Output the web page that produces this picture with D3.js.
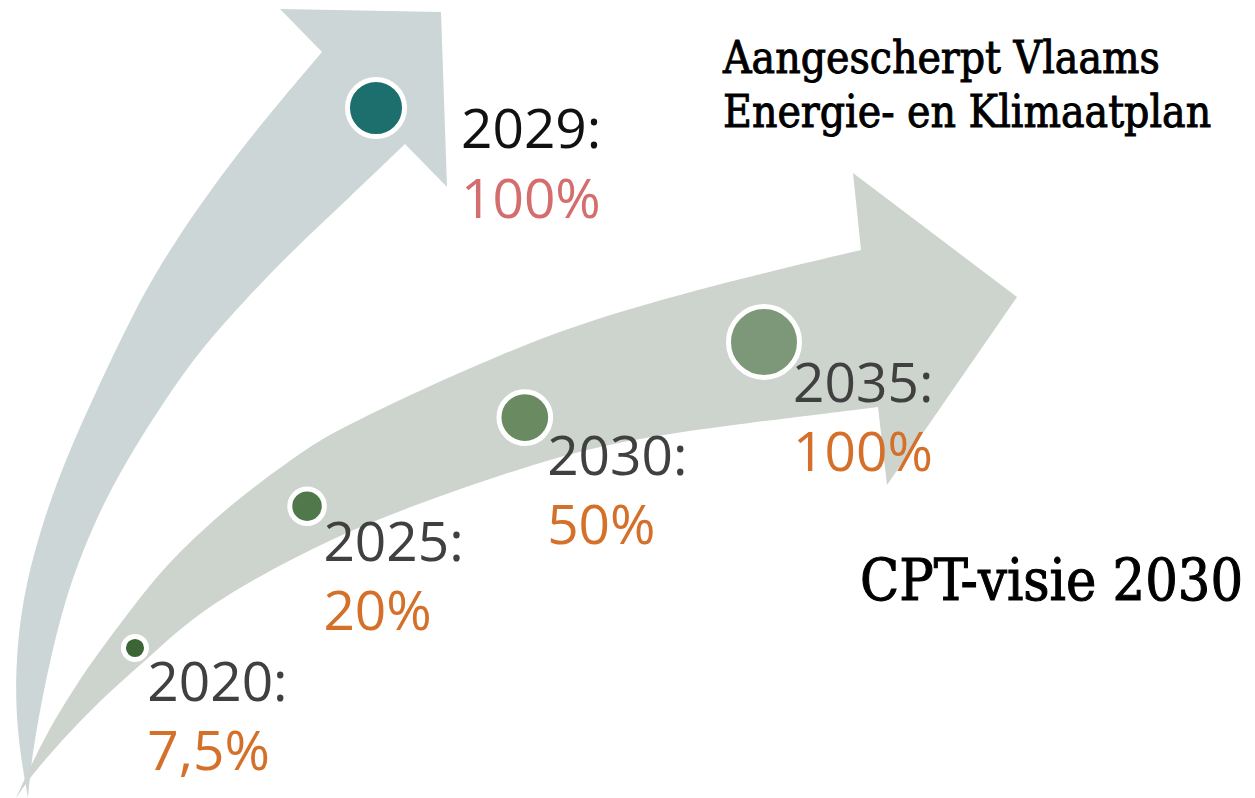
<!DOCTYPE html>
<html>
<head>
<meta charset="utf-8">
<script src="https://cdn.jsdelivr.net/npm/d3@7/dist/d3.min.js"></script>
<style>
  body { margin: 0; background: #fff; }
  svg { display: block; }
</style>
</head>
<body>
<div id="chart"></div>
<script>
// data
var years = [2020, 2025, 2030, 2035];
var shares = [7.5, 20, 50, 100];
var shareLabels = ["7,5%", "20%", "50%", "100%"];

var vekpYears = [2029];
var vekpShares = [100];
var vekpLabels = ["100%"];

var titleLines = ["Aangescherpt Vlaams", "Energie- en Klimaatplan"];
var cptTitle = "CPT-visie 2030";

var width = 1255;
var height = 798;

var svg = d3.select('#chart')
  .append('svg')
  .attr('width', width)
  .attr('height', height);

// arrow outlines (decoration only)
var smooth = d3.line().curve(d3.curveBasis);
var straight = d3.line();

function arrowPath(leftEdge, head, rightEdge) {
  return smooth(leftEdge) +
    straight(head).replace(/^M/, 'L') +
    smooth(rightEdge).replace(/^M/, 'L') + 'Z';
}

var upperArrow = arrowPath(
  [[28,798],[17,735],[15,670],[22,600],[40,530],[65,460],[100,383],[130,320],[165,255],[237,152],[322,52]],
  [[322,52],[280,9],[441,12],[447,187],[405,144]],
  [[405,144],[350,197],[293,250],[245,300],[200,350],[165,400],[133,450],[105,500],[83,550],[65,600],[50,660],[38,720],[31,765],[28,798]]
);

var lowerArrow = arrowPath(
  [[16,798],[45,735],[78,682],[102,648],[135,604],[170,560],[233,502],[300,453],[333,432],[420,390],[500,355],[580,323],[713,285],[861,250]],
  [[861,250],[853,173],[1017,297],[887,485],[878,407]],
  [[878,407],[747,423],[620,440],[520,468],[420,503],[333,537],[233,590],[180,628],[143,663],[100,700],[55,748],[32,775],[16,798]]
);

svg.append('path')
  .attr('d', upperArrow)
  .attr('fill', '#ccd6d6');

svg.append('path')
  .attr('d', lowerArrow)
  .attr('fill', '#cdd3cd');

// scales (years since 2020)
var x = d3.scalePow().exponent(1.18)
  .domain([0, 15])
  .range([135, 764]);

var y = d3.scalePow().exponent(0.7)
  .domain([0, 15])
  .range([648, 342]);

var r = d3.scaleSqrt()
  .domain([0, 100])
  .range([0, 33]);

var color = d3.scaleOrdinal()
  .domain(years)
  .range(['#3b6534', '#50784b', '#6a8a62', '#7d9779']);

// along the upper arrow
var xUp = d3.scaleLinear().domain([2020, 2029]).range([28, 376]);
var yUp = d3.scaleLinear().domain([2020, 2029]).range([798, 108]);
var rUp = d3.scaleSqrt().domain([0, 100]).range([0, 26]);

var numFont = "'Open Sans', 'Noto Sans', sans-serif";
var slabFont = "'DejaVu Serif Condensed', 'DejaVu Serif', serif";

// lower arrow milestones
var points = years.map(function(d, i) {
  return { year: d, t: d - years[0], share: shares[i], label: shareLabels[i] };
});

var ms = svg.selectAll('.milestone')
  .data(points)
  .enter()
  .append('g')
  .attr('class', 'milestone');

ms.append('circle')
  .attr('cx', function(d) { return x(d.t); })
  .attr('cy', function(d) { return y(d.t); })
  .attr('r', function(d) { return r(d.share) + 2.5; })
  .attr('fill', function(d) { return color(d.year); })
  .attr('stroke', '#fff')
  .attr('stroke-width', 5);

ms.append('text')
  .attr('x', function(d) { return x(d.t) + 6 + r(d.share) * 0.7; })
  .attr('y', function(d) { return y(d.t) + 50 + r(d.share) * 0.3; })
  .attr('font-family', numFont)
  .attr('font-size', 55)
  .attr('fill', '#404040')
  .text(function(d) { return d.year + ':'; });

ms.append('text')
  .attr('x', function(d) { return x(d.t) + 6 + r(d.share) * 0.7; })
  .attr('y', function(d) { return y(d.t) + 119 + r(d.share) * 0.3; })
  .attr('font-family', numFont)
  .attr('font-size', 55)
  .attr('fill', '#d4702a')
  .text(function(d) { return d.label; });

// upper arrow milestone
var up = svg.selectAll('.vekp')
  .data(vekpYears.map(function(d, i) {
    return { year: d, share: vekpShares[i], label: vekpLabels[i] };
  }))
  .enter()
  .append('g')
  .attr('class', 'vekp');

up.append('circle')
  .attr('cx', function(d) { return xUp(d.year); })
  .attr('cy', function(d) { return yUp(d.year); })
  .attr('r', function(d) { return rUp(d.share) + 2.5; })
  .attr('fill', '#1d6f6e')
  .attr('stroke', '#fff')
  .attr('stroke-width', 5);

up.append('text')
  .attr('x', function(d) { return xUp(d.year) + 85; })
  .attr('y', function(d) { return yUp(d.year) + 40; })
  .attr('font-family', numFont)
  .attr('font-size', 55)
  .attr('fill', '#111')
  .text(function(d) { return d.year + ':'; });

up.append('text')
  .attr('x', function(d) { return xUp(d.year) + 85; })
  .attr('y', function(d) { return yUp(d.year) + 110; })
  .attr('font-family', numFont)
  .attr('font-size', 55)
  .attr('fill', '#d46e6e')
  .text(function(d) { return d.label; });

// titles
svg.selectAll('.title')
  .data(titleLines)
  .enter()
  .append('text')
  .attr('class', 'title')
  .attr('x', 723)
  .attr('y', function(d, i) { return 73 + i * 54; })
  .attr('font-family', slabFont)
  .attr('font-size', 44)
  .attr('fill', '#000')
  .attr('stroke', '#000')
  .attr('stroke-width', 0.9)
  .text(function(d) { return d; });

svg.append('text')
  .attr('x', 860)
  .attr('y', 600)
  .attr('font-family', slabFont)
  .attr('font-size', 57)
  .attr('fill', '#000')
  .attr('stroke', '#000')
  .attr('stroke-width', 1)
  .text(cptTitle);
</script>
</body>
</html>
